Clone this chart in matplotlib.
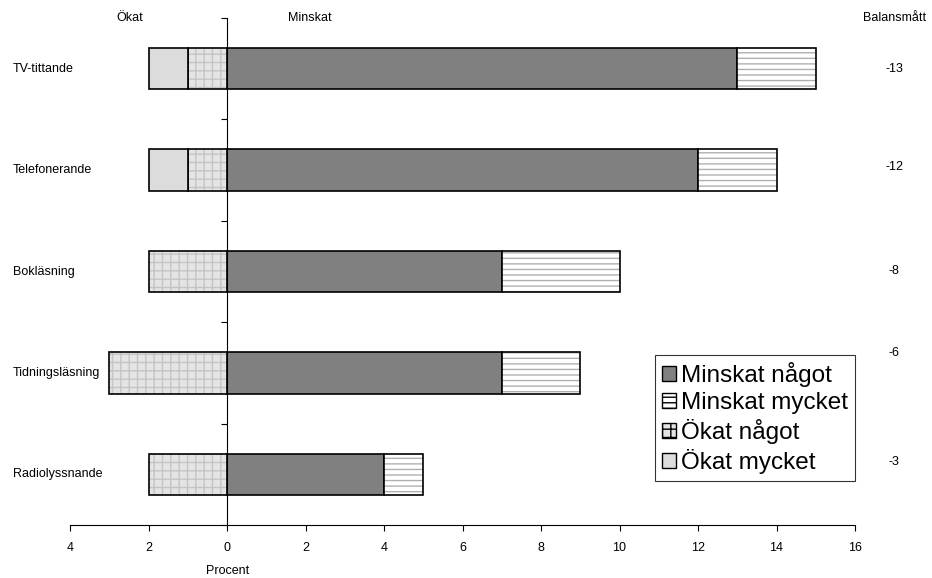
import matplotlib.pyplot as plt
from matplotlib.patches import Patch

plt.rcParams['font.family'] = ['Liberation Sans', 'DejaVu Sans']

categories = ['TV-tittande', 'Telefonerande', 'Bokläsning', 'Tidningsläsning', 'Radiolyssnande']
minskat_nagot = [13, 12, 7, 7, 4]
minskat_mycket = [2, 2, 3, 2, 1]
okat_nagot = [1, 1, 2, 3, 2]
okat_mycket = [1, 1, 0, 0, 0]
balans = [-13, -12, -8, -6, -3]
balans_ypos = [0, 0.97, 2, 2.8, 3.88]  # labels sit a bit off-centre in the original

fig = plt.figure(figsize=(9.32, 5.78), dpi=100)
ax = fig.add_axes([70/932, 1 - 525/578, 785/932, 507/578])

y = list(range(len(categories)))
h = 0.41

# Minskat något (solid dark grey, right side)
ax.barh(y, minskat_nagot, height=h, color='#808080', edgecolor='black', linewidth=1.2)

# Minskat mycket (white with grey dashes)
ax.barh(y, minskat_mycket, left=minskat_nagot, height=h, color='white',
        edgecolor='#b0b0b0', hatch='---', linewidth=0)
ax.barh(y, minskat_mycket, left=minskat_nagot, height=h, fill=False,
        edgecolor='black', linewidth=1.2)

# Ökat något (checkered light grey, left side)
neg_nagot = [-v for v in okat_nagot]
ax.barh(y, neg_nagot, height=h, color='#e4e4e4', edgecolor='#c4c4c4',
        hatch='++', linewidth=0)
ax.barh(y, neg_nagot, height=h, fill=False, edgecolor='black', linewidth=1.2)

# Ökat mycket (plain light grey)
neg_mycket = [-v for v in okat_mycket]
for i in y:
    if okat_mycket[i] > 0:
        ax.barh(i, neg_mycket[i], left=neg_nagot[i], height=h, color='#dcdcdc',
                edgecolor='black', linewidth=1.2)

ax.set_xlim(-4, 16)
ax.set_ylim(4.48, -0.48)

ax.spines['top'].set_visible(False)
ax.spines['right'].set_visible(False)
ax.spines['left'].set_position(('data', 0))

ax.set_xticks(range(-4, 17, 2))
ax.set_xticklabels([str(abs(v)) for v in range(-4, 17, 2)], fontsize=9)
ax.set_yticks([i - 0.5 for i in range(len(categories) + 1)])
ax.set_yticklabels([])
ax.tick_params(axis='y', length=4, direction='out')
ax.tick_params(axis='x', length=4, direction='out', pad=8)

for i, c in enumerate(categories):
    fig.text(13/932, ax.transData.transform((0, i))[1] / 578, c,
             fontsize=9, va='center', ha='left')

for b, yp in zip(balans, balans_ypos):
    ax.text(17.0, yp, str(b), fontsize=9, va='center', ha='center', clip_on=False)

fig.text(130/932, 1 - 18/578, 'Ökat', fontsize=9, ha='center', va='center')
fig.text(310/932, 1 - 18/578, 'Minskat', fontsize=9, ha='center', va='center')
fig.text(895/932, 1 - 18/578, 'Balansmått', fontsize=9, ha='center', va='center')
fig.text(228/932, 1 - 571/578, 'Procent', fontsize=9, ha='center', va='center')

handles = [
    Patch(facecolor='#808080', edgecolor='black', label='Minskat något'),
    Patch(facecolor='white', edgecolor='black', hatch='---', label='Minskat mycket'),
    Patch(facecolor='#e4e4e4', edgecolor='black', hatch='++', label='Ökat något'),
    Patch(facecolor='#dcdcdc', edgecolor='black', label='Ökat mycket'),
]
leg = fig.legend(handles=handles, loc='upper left', bbox_to_anchor=(655/932, 1 - 355/578),
                 fontsize=17.5, frameon=True, fancybox=False, edgecolor='black',
                 handlelength=0.55, handleheight=0.55, handletextpad=0.2,
                 labelspacing=0.2, borderpad=0.3, borderaxespad=0)
leg.get_frame().set_linewidth(0.8)

fig.savefig('out.png', dpi=100)
